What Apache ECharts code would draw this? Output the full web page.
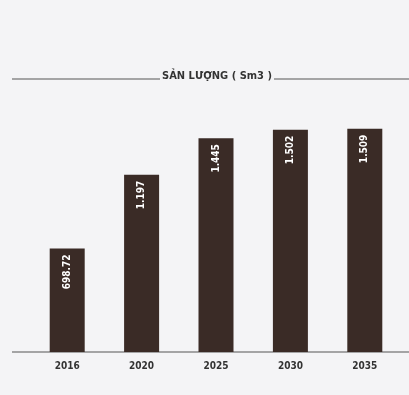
<!DOCTYPE html>
<html>
<head>
<meta charset="utf-8">
<script src="https://cdn.jsdelivr.net/npm/echarts@6/dist/echarts.min.js"></script>
<style>
  html, body { margin: 0; padding: 0; background: #f4f4f6; }
  #chart { width: 409px; height: 395px; }
</style>
</head>
<body>
<div id="chart"></div>
<script>
// data
var years = ['2016', '2020', '2025', '2030', '2035'];
var output = [698.72, 1197, 1445, 1502, 1509];
var titleText = 'SẢN LƯỢNG ( Sm3 )';

var font = '"DejaVu Sans Condensed", "Liberation Sans Narrow", sans-serif';

function fmt(v) {
    if (v >= 1000) {
        var s = String(Math.round(v));
        return s.slice(0, s.length - 3) + '.' + s.slice(s.length - 3);
    }
    return String(v);
}

var myChart = echarts.init(document.getElementById('chart'));
var option = {
    backgroundColor: '#f4f4f6',
    animation: false,
    grid: { left: 30, right: 7, top: 56, bottom: 43 },
    graphic: [
        { type: 'line', shape: { x1: 12, y1: 79, x2: 160, y2: 79 }, style: { stroke: '#555', lineWidth: 1 } },
        { type: 'line', shape: { x1: 274, y1: 79, x2: 409, y2: 79 }, style: { stroke: '#555', lineWidth: 1 } },
        { type: 'text', x: 217, y: 71, style: { text: titleText, font: 'bold 11px ' + font, fill: '#333', align: 'center' } },
        { type: 'line', shape: { x1: 12, y1: 352, x2: 409, y2: 352 }, style: { stroke: '#555', lineWidth: 1 } }
    ],
    xAxis: {
        type: 'category',
        data: years,
        axisLine: { show: false },
        axisTick: { show: false },
        axisLabel: { color: '#333', fontFamily: font, fontWeight: 'bold', fontSize: 10, margin: 9 }
    },
    yAxis: {
        type: 'value',
        min: 0,
        max: 2000,
        show: false
    },
    series: [
        {
            type: 'bar',
            data: output,
            barWidth: 35,
            itemStyle: { color: '#3a2b26' },
            label: {
                show: true,
                position: 'insideTop',
                rotate: 90,
                align: 'right',
                verticalAlign: 'middle',
                distance: 6,
                color: '#fff',
                fontFamily: font,
                fontWeight: 'bold',
                fontSize: 10,
                formatter: function (p) { return fmt(p.value); }
            }
        }
    ]
};
myChart.setOption(option);
</script>
</body>
</html>
